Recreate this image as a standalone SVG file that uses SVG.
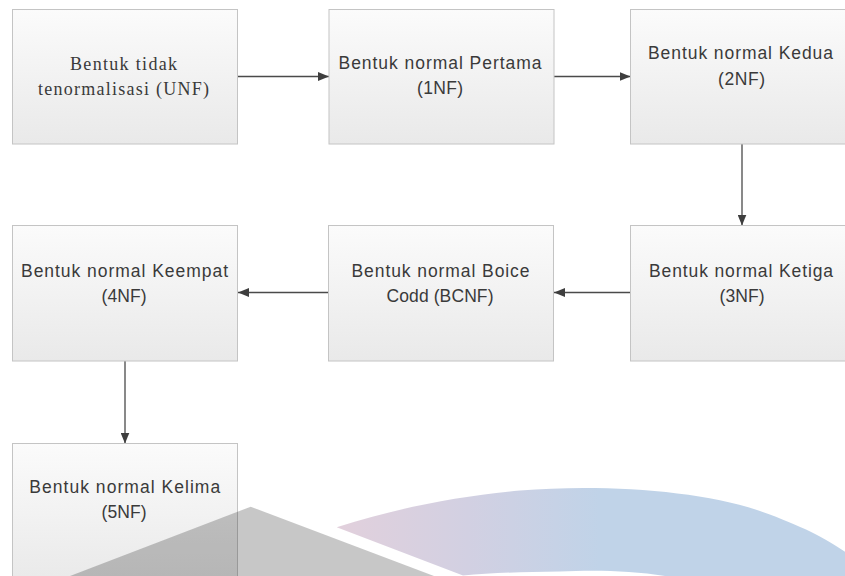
<svg xmlns="http://www.w3.org/2000/svg" width="845" height="576" viewBox="0 0 845 576">
  <style>
    .box { fill: url(#boxGrad); stroke: #c4c4c4; stroke-width: 1; }
    .sans { font-family: "Liberation Sans", Arial, sans-serif; font-size: 17.5px; fill: #3a3a3a; text-anchor: middle; }
    .serif { font-family: "Liberation Serif", "Times New Roman", serif; font-size: 18px; fill: #3a3a3a; text-anchor: middle; }
    .conn { stroke: #4a4a4a; stroke-width: 1.3; fill: none; marker-end: url(#arrow); }
  </style>
  <defs>
    <linearGradient id="boxGrad" x1="0" y1="0" x2="0" y2="1">
      <stop offset="0" stop-color="#fbfbfb"/>
      <stop offset="1" stop-color="#e9e9e9"/>
    </linearGradient>
    <linearGradient id="arcGrad" gradientUnits="userSpaceOnUse" x1="336" y1="0" x2="600" y2="0">
      <stop offset="0" stop-color="#e2d0dc"/>
      <stop offset="0.5" stop-color="#d2d0e2"/>
      <stop offset="1" stop-color="#c0d3e8"/>
    </linearGradient>
    <marker id="arrow" markerUnits="userSpaceOnUse" markerWidth="11" markerHeight="9" refX="11" refY="4.5" orient="auto">
      <path d="M0,0 L11,4.5 L0,9 z" fill="#3e3e3e"/>
    </marker>
  </defs>

  <g id="connectors">
    <path class="conn" d="M238,76.5 H329"/>
    <path class="conn" d="M554,76.5 H630.5"/>
    <path class="conn" d="M742,144 V225.5"/>
    <path class="conn" d="M630.5,292.5 H554"/>
    <path class="conn" d="M328.5,292.5 H238"/>
    <path class="conn" d="M125,361 V443.5"/>
  </g>

  <g id="node-unf">
    <rect class="box" x="12.5" y="9.5" width="225" height="134.5"/>
    <text class="serif" x="123.5" y="69.5" textLength="107" lengthAdjust="spacing">Bentuk tidak</text>
    <text class="serif" x="123.5" y="95" textLength="171" lengthAdjust="spacing">tenormalisasi (UNF)</text>
  </g>
  <g id="node-1nf">
    <rect class="box" x="329" y="9.5" width="225" height="134.5"/>
    <text class="sans" x="440" y="69" textLength="203" lengthAdjust="spacing">Bentuk normal Pertama</text>
    <text class="sans" x="440" y="94" textLength="46" lengthAdjust="spacing">(1NF)</text>
  </g>
  <g id="node-2nf">
    <rect class="box" x="630.5" y="9.5" width="225" height="134.5"/>
    <text class="sans" x="740.5" y="59" textLength="185" lengthAdjust="spacing">Bentuk normal Kedua</text>
    <text class="sans" x="741.5" y="84.5" textLength="47" lengthAdjust="spacing">(2NF)</text>
  </g>
  <g id="node-3nf">
    <rect class="box" x="630.5" y="225.5" width="225" height="135.5"/>
    <text class="sans" x="741" y="276.5" textLength="184" lengthAdjust="spacing">Bentuk normal Ketiga</text>
    <text class="sans" x="742" y="301.5" textLength="45" lengthAdjust="spacing">(3NF)</text>
  </g>
  <g id="node-bcnf">
    <rect class="box" x="328.5" y="225.5" width="225" height="135.5"/>
    <text class="sans" x="440.5" y="276.5" textLength="178" lengthAdjust="spacing">Bentuk normal Boice</text>
    <text class="sans" x="440" y="301.5" textLength="107" lengthAdjust="spacing">Codd (BCNF)</text>
  </g>
  <g id="node-4nf">
    <rect class="box" x="12.5" y="225.5" width="225" height="135.5"/>
    <text class="sans" x="124.5" y="276.5" textLength="207" lengthAdjust="spacing">Bentuk normal Keempat</text>
    <text class="sans" x="124" y="302" textLength="45" lengthAdjust="spacing">(4NF)</text>
  </g>
  <g id="node-5nf">
    <rect class="box" x="12.5" y="443.5" width="225" height="140"/>
    <text class="sans" x="124.7" y="492.5" textLength="191" lengthAdjust="spacing">Bentuk normal Kelima</text>
    <text class="sans" x="124" y="518" textLength="45" lengthAdjust="spacing">(5NF)</text>
  </g>

  <g id="watermark">
    <path d="M250.7,506.7 L434,576 L70,576 Z" fill="#000000" fill-opacity="0.22"/>
    <path d="M336.7,527.3 C400,507 460,496 520,490.5 C600,484 700,490 760,511 C800,525 825,538 845,551.7 L845,576 L665,576 C630,570 590,570 560,571.5 C520,572 490,573 463,575.5 Z" fill="url(#arcGrad)"/>
  </g>
</svg>
